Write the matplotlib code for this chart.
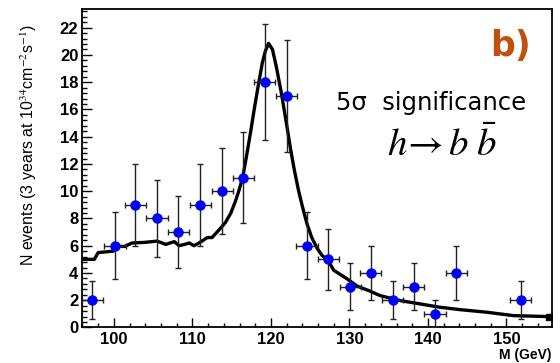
import matplotlib
matplotlib.use("Agg")
import matplotlib.pyplot as plt
from matplotlib.ticker import MultipleLocator

plt.rcParams["mathtext.fontset"] = "stix"

# ---- data ----
mass = [97.25, 100.15, 102.75, 105.5, 108.2, 111.0, 113.8, 116.5, 119.2, 122.0,
        124.6, 127.3, 130.1, 132.7, 135.5, 138.2, 140.9, 143.6, 151.8]
counts = [2, 6, 9, 8, 7, 9, 10, 11, 18, 17, 6, 5, 3, 4, 2, 3, 1, 4, 2]
count_err = [1.41, 2.45, 3.0, 2.83, 2.65, 3.0, 3.16, 3.32, 4.24, 4.12,
             2.45, 2.24, 1.73, 2.0, 1.41, 1.73, 1.0, 2.0, 1.41]
mass_halfbin = 1.36

curve_mass = [96.0, 97.5, 98.0, 99.9, 100.4, 101.4, 102.3, 104.0, 105.5, 106.6,
              107.7, 108.3, 109.0, 109.6, 110.2, 111.0, 111.9, 112.5, 113.6, 114.2,
              114.9, 115.5, 115.9, 116.4, 116.9, 117.4, 117.9, 118.4, 118.9, 119.3,
              119.7, 120.2, 120.7, 121.3, 122.0, 122.5, 123.0, 123.5, 124.0, 124.6,
              125.2, 125.9, 126.5, 127.3, 128.0, 129.7, 131.0, 132.5, 133.9, 136.5,
              139.0, 141.6, 144.1, 147.5, 150.9, 155.4]
curve_events = [5.0, 5.0, 5.5, 5.6, 5.95, 5.95, 6.2, 6.25, 6.34, 6.1,
                6.3, 6.0, 6.1, 6.2, 6.0, 6.26, 6.6, 6.6, 7.3, 7.7,
                8.4, 9.3, 10.0, 11.0, 12.6, 14.3, 16.1, 17.8, 19.4, 20.3,
                20.85, 20.4, 19.1, 17.3, 14.9, 13.1, 11.5, 10.1, 8.9, 7.6,
                6.6, 5.8, 5.3, 4.9, 4.2, 3.57, 3.03, 2.7, 2.34, 1.97,
                1.73, 1.48, 1.31, 1.12, 0.87, 0.8]

x_ticks = [100, 110, 120, 130, 140, 150]
y_ticks = [0, 2, 4, 6, 8, 10, 12, 14, 16, 18, 20, 22]

# ---- figure ----
fig = plt.figure(figsize=(5.6, 3.63), dpi=100)
ax = fig.add_axes([0.1473, 0.0978, 0.8384, 0.8766])

ax.plot(curve_mass, curve_events, color="black", lw=2.4, zorder=2,
        solid_joinstyle="round")
ax.plot([curve_mass[-1]], [curve_events[-1]], marker="s", color="black",
        ms=4, zorder=2)

ax.errorbar(mass, counts, yerr=count_err, xerr=mass_halfbin, fmt="none",
            ecolor="#222222", elinewidth=1.0, capsize=2.5, capthick=1.0, zorder=3)
ax.plot(mass, counts, "o", color="#0000ff", ms=6.5, mec="#0000ff", zorder=4)

ax.set_xlim(96.0, 155.8)
ax.set_ylim(0, 23.35)

ax.set_xticks(x_ticks)
ax.set_yticks(y_ticks)
ax.xaxis.set_minor_locator(MultipleLocator(2))
ax.yaxis.set_minor_locator(MultipleLocator(0.4))

tickfont = dict(family="Liberation Sans", weight="bold", size=12)
ax.set_xticklabels([str(t) for t in x_ticks], **tickfont)
ax.set_yticklabels([str(t) for t in y_ticks], **tickfont)

ax.tick_params(axis="x", which="major", direction="in", length=6.5, width=1.0, pad=3)
ax.tick_params(axis="x", which="minor", direction="in", length=3.2, width=1.0)
ax.tick_params(axis="y", which="major", direction="in", length=7.5, width=1.0, pad=3)
ax.tick_params(axis="y", which="minor", direction="in", length=3.8, width=1.0)
ax.tick_params(top=False, right=False, which="both")

for s in ax.spines.values():
    s.set_linewidth(1.3)

fig.text(0.052, 0.60, r"N events (3 years at 10$^{34}$cm$^{-2}$s$^{-1}$)",
         rotation=90, ha="center", va="center", family="Liberation Sans", size=11.5)
fig.text(0.985, 0.004, "M (GeV)", ha="right", va="bottom",
         family="Liberation Sans", weight="bold", size=10)

ax.text(0.955, 0.885, "b)", transform=ax.transAxes, ha="right", va="center",
        family="DejaVu Sans", weight="bold", size=25, color="#c0500c")
ax.text(0.945, 0.705, "5σ  significance", transform=ax.transAxes, ha="right",
        va="center", family="DejaVu Sans", size=17.5, color="black")
ax.text(0.765, 0.572, r"$h\!\rightarrow b\;\bar{b}$", transform=ax.transAxes,
        ha="center", va="center", size=28, color="black")

fig.savefig("out.png", dpi=100)
